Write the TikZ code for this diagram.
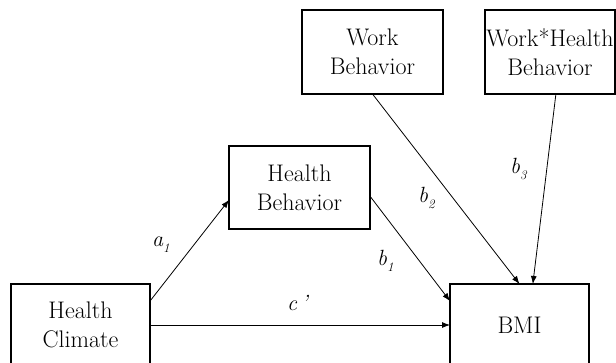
\documentclass[tikz,border=0pt]{standalone}
\usetikzlibrary{arrows.meta}

\newcommand{\lsub}[1]{\raisebox{-6pt}{\fontsize{13}{13}\selectfont #1}}

\tikzset{
  varbox/.style={draw, line width=1.2pt, inner sep=0pt, outer sep=0pt, align=center,
    font=\fontsize{24}{29}\selectfont},
  path/.style={line width=0.8pt, -{Latex[length=8pt,width=6pt]}},
  coef/.style={inner sep=0pt, anchor=base west, font=\fontsize{22}{26}\selectfont\itshape}
}

\begin{document}
\begin{tikzpicture}[x=1pt,y=1pt,yscale=-1,xscale=1]
\useasboundingbox (0,0) rectangle (616,362);


%Variables
\node [varbox, minimum width=139pt, minimum height=82pt] (HC) at (80.5,325) {Health\\Climate};
\node [varbox, minimum width=141pt, minimum height=83pt] (HB) at (299.5,187.5) {Health\\Behavior};
\node [varbox, minimum width=141pt, minimum height=84pt] (WB) at (372.5,52) {Work\\Behavior};
\node [varbox, minimum width=130pt, minimum height=84pt] (WHB) at (550,52) {Work*Health\\Behavior};
\node [varbox, minimum width=139pt, minimum height=82pt] (BMI) at (519.5,325) {BMI};


%Paths
\draw [path] (HC.19.8) -- (HB.190.8);
\draw [path] (HB.-7.7) -- (BMI.161);
\draw [path] (HC.east) -- (BMI.west);
\draw [path] (WB.south) -- (BMI.north);
\draw [path] (WHB.-82) -- (BMI.72);


%Coefficients
\node [coef] (a1) at (152,246) {a\lsub{1}};
\node [coef] (b1) at (377,265) {b\lsub{1}};
\node [coef] (b2) at (418,202) {b\lsub{2}};
\node [coef] (b3) at (510,173) {b\lsub{3}};
\node [coef] (cp) at (287,310) {c\kern4pt’};

\end{tikzpicture}
\end{document}
